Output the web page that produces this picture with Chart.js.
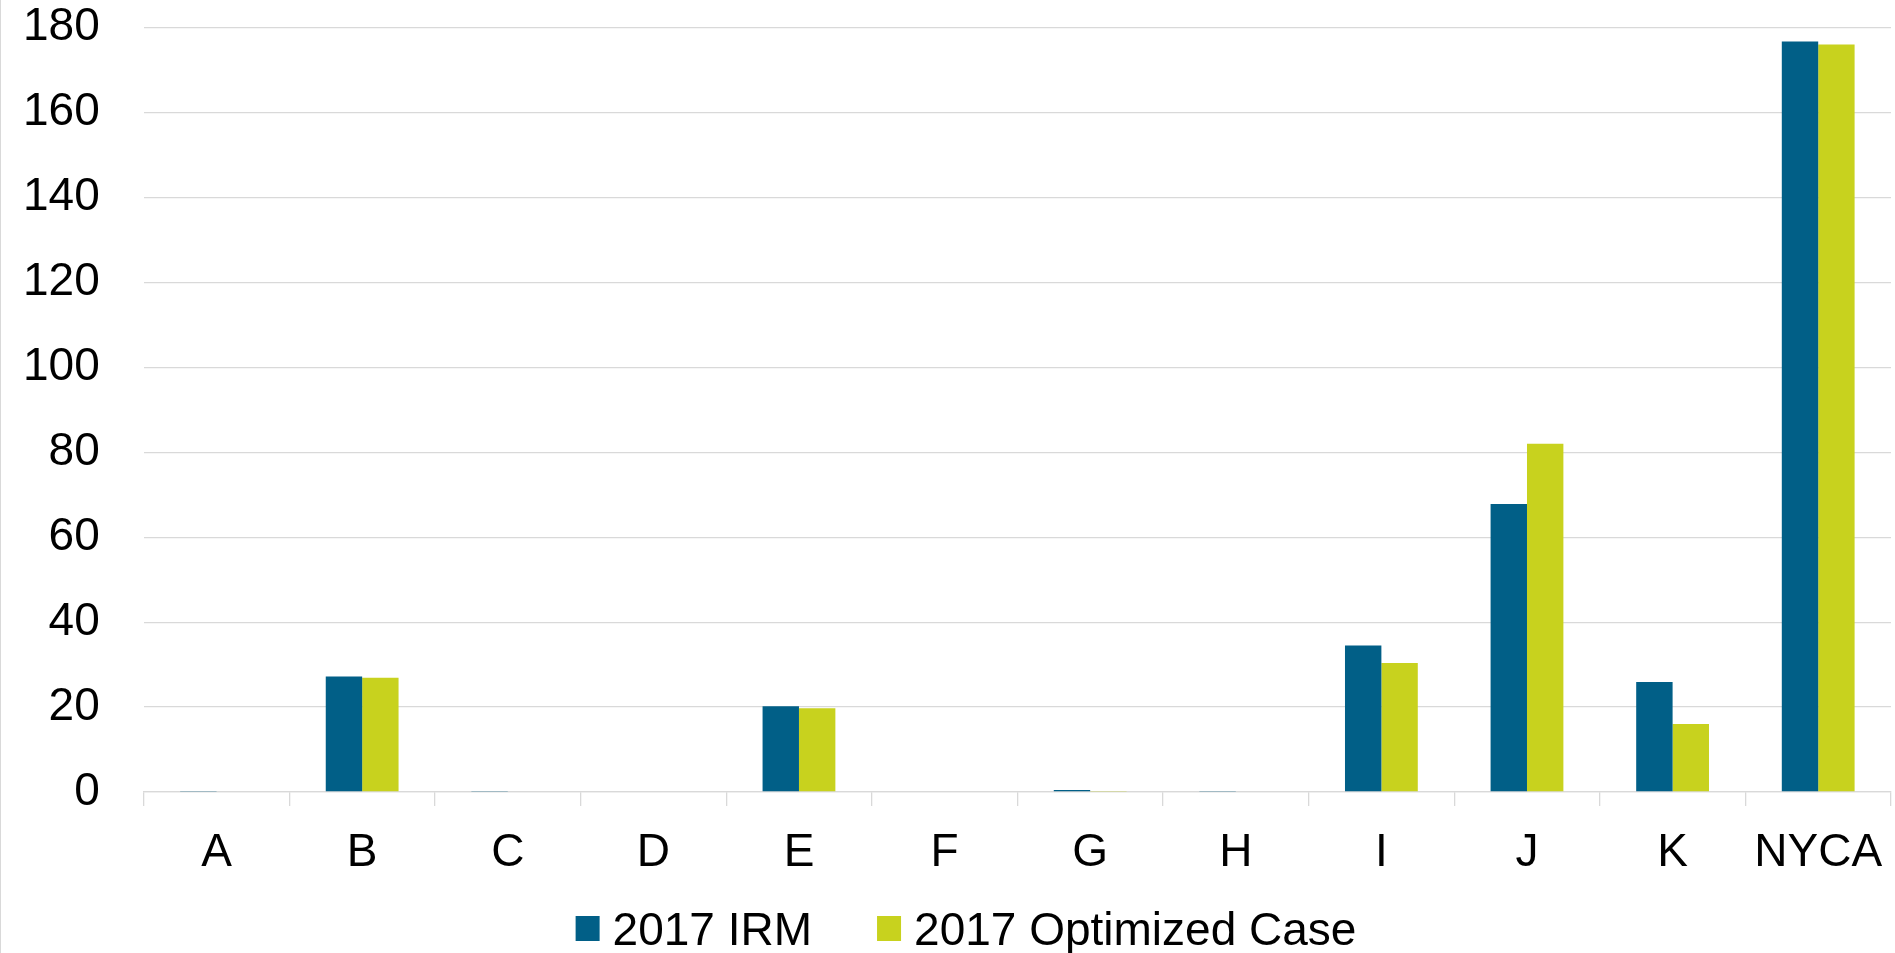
<!DOCTYPE html>
<html>
<head>
<meta charset="utf-8">
<script src="https://cdn.jsdelivr.net/npm/chart.js@4.4.0/dist/chart.umd.min.js"></script>
<style>
  html, body { margin: 0; padding: 0; background: #fff; }
  #wrap { position: relative; width: 1895px; height: 953px; }
  #wrap::before { content: ''; position: absolute; left: 0; top: 0; bottom: 0; width: 1px; background: #d9d9d9; }
</style>
</head>
<body>
<div id="wrap"><canvas id="zoneChart" width="1895" height="953"></canvas></div>
<script>
// zones on the x axis
const zones = ['A', 'B', 'C', 'D', 'E', 'F', 'G', 'H', 'I', 'J', 'K', 'NYCA'];

// series values
const irm2017 = [0.25, 27.2, 0.25, 0, 20.2, 0, 0.5, 0.25, 34.5, 67.8, 25.9, 176.7];
const optimized2017 = [0.2, 26.9, 0.2, 0, 19.7, 0, 0.1, 0.2, 30.4, 82.0, 16.0, 176.0];

const seriesNames = ['2017 IRM', '2017 Optimized Case'];
const yMin = 0;
const yMax = 180;
const yStep = 20;

const FONT = '"Liberation Sans", Arial, sans-serif';
const NARROW = '"Liberation Sans Narrow", "Arial Narrow", "Liberation Sans", sans-serif';
const GRID = '#d9d9d9';

// legend drawn by hand so spacing matches the original
const bottomLegend = {
    id: 'bottomLegend',
    afterDraw(chart) {
        const ctx = chart.ctx;
        const sets = chart.data.datasets;
        const box = 24, gapText = 13, gapItem = 65;
        ctx.save();
        ctx.font = '46px ' + FONT;
        ctx.textBaseline = 'alphabetic';
        const widths = sets.map(ds => box + gapText + ctx.measureText(ds.label).width);
        const total = widths.reduce((a, b) => a + b, 0) + gapItem * (sets.length - 1);
        let x = 966 - total / 2;
        sets.forEach((ds, i) => {
            ctx.fillStyle = ds.backgroundColor;
            ctx.fillRect(x, 916, box, 25);
            ctx.fillStyle = '#000';
            ctx.fillText(ds.label, x + box + gapText, 945);
            x += widths[i] + gapItem;
        });
        ctx.restore();
    }
};

const ctx = document.getElementById('zoneChart').getContext('2d');
new Chart(ctx, {
    type: 'bar',
    data: {
        labels: zones,
        datasets: [
            { label: seriesNames[0], data: irm2017, backgroundColor: '#015F87' },
            { label: seriesNames[1], data: optimized2017, backgroundColor: '#C8D21E' }
        ]
    },
    options: {
        responsive: false,
        animation: false,
        devicePixelRatio: 1,
        layout: { padding: { left: 23, right: 4, top: 1, bottom: 53 } },
        datasets: {
            bar: { categoryPercentage: 0.5, barPercentage: 1.0, borderWidth: 0 }
        },
        plugins: {
            legend: { display: false },
            tooltip: { enabled: false }
        },
        scales: {
            x: {
                grid: {
                    offset: true,
                    drawOnChartArea: false,
                    drawTicks: true,
                    tickLength: 14,
                    color: GRID,
                    lineWidth: 1.3
                },
                border: { display: true, color: GRID, width: 1.3 },
                ticks: {
                    color: '#000',
                    padding: 0,
                    // tall line box pushes the labels down without side padding
                    font: { family: NARROW, size: 46, lineHeight: 2.043 }
                }
            },
            y: {
                min: yMin,
                max: yMax,
                // invisible tick marks give the gap between labels and plot
                grid: { color: GRID, lineWidth: 1.3, drawTicks: true, tickLength: 44, tickColor: 'rgba(0,0,0,0)' },
                border: { display: false },
                ticks: {
                    stepSize: yStep,
                    color: '#000',
                    padding: 0,
                    font: { family: FONT, size: 46 }
                }
            }
        }
    },
    plugins: [bottomLegend]
});
</script>
</body>
</html>
